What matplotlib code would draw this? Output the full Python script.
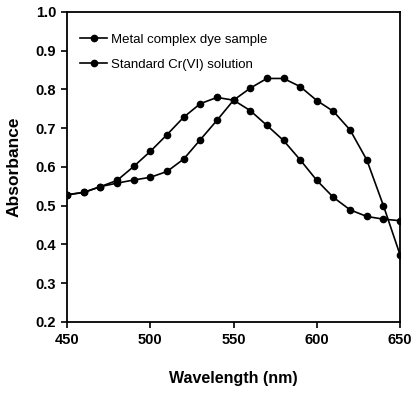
import matplotlib
matplotlib.use("Agg")
import matplotlib.pyplot as plt
from matplotlib import font_manager as fm

names = {f.name for f in fm.fontManager.ttflist}
narrow = "Liberation Sans Narrow" if "Liberation Sans Narrow" in names else "Liberation Sans"

wavelength = [450, 460, 470, 480, 490, 500, 510, 520, 530, 540, 550,
              560, 570, 580, 590, 600, 610, 620, 630, 640, 650]
dye_sample = [0.528, 0.534, 0.549, 0.565, 0.601, 0.640, 0.683, 0.728, 0.763, 0.779, 0.772,
              0.745, 0.707, 0.668, 0.618, 0.565, 0.521, 0.489, 0.472, 0.465, 0.461]
cr_standard = [0.528, 0.534, 0.549, 0.558, 0.566, 0.573, 0.588, 0.620, 0.670, 0.720, 0.772,
               0.803, 0.828, 0.828, 0.807, 0.771, 0.743, 0.695, 0.618, 0.500, 0.373]
labels = ["Metal complex dye sample", "Standard Cr(VI) solution"]
xticks = [450, 500, 550, 600, 650]
yticks = [0.2, 0.3, 0.4, 0.5, 0.6, 0.7, 0.8, 0.9, 1.0]

fig = plt.figure(figsize=(4.12, 3.93), dpi=100)
ax = fig.add_axes([0.163, 0.181, 0.808, 0.789])

for ys, lab in zip([dye_sample, cr_standard], labels):
    ax.plot(wavelength, ys, color="black", lw=1.2, marker="o", ms=4.5, label=lab)

ax.set_xlim(450, 650)
ax.set_ylim(0.2, 1.0)
ax.set_xticks(xticks)
ax.set_yticks(yticks)
ax.set_xticklabels([str(t) for t in xticks], fontfamily=narrow, fontweight="bold", fontsize=10.5)
ax.set_yticklabels([f"{t:.1f}" for t in yticks], fontfamily=narrow, fontweight="bold", fontsize=10.5)
ax.tick_params(direction="out", length=4, width=1.2, pad=4)
for s in ax.spines.values():
    s.set_linewidth(1.3)

ax.set_xlabel("Wavelength (nm)", fontfamily=narrow, fontweight="bold", fontsize=11.5, labelpad=17)
ax.set_ylabel("Absorbance", fontfamily=narrow, fontweight="bold", fontsize=12.5, labelpad=10)

leg = ax.legend(loc="upper left", frameon=False, prop={"family": narrow, "size": 9.5},
                handlelength=2.0, handletextpad=0.35, labelspacing=0.95,
                bbox_to_anchor=(0.0, 0.972), borderaxespad=0.6)

fig.savefig("out.png", dpi=100)
